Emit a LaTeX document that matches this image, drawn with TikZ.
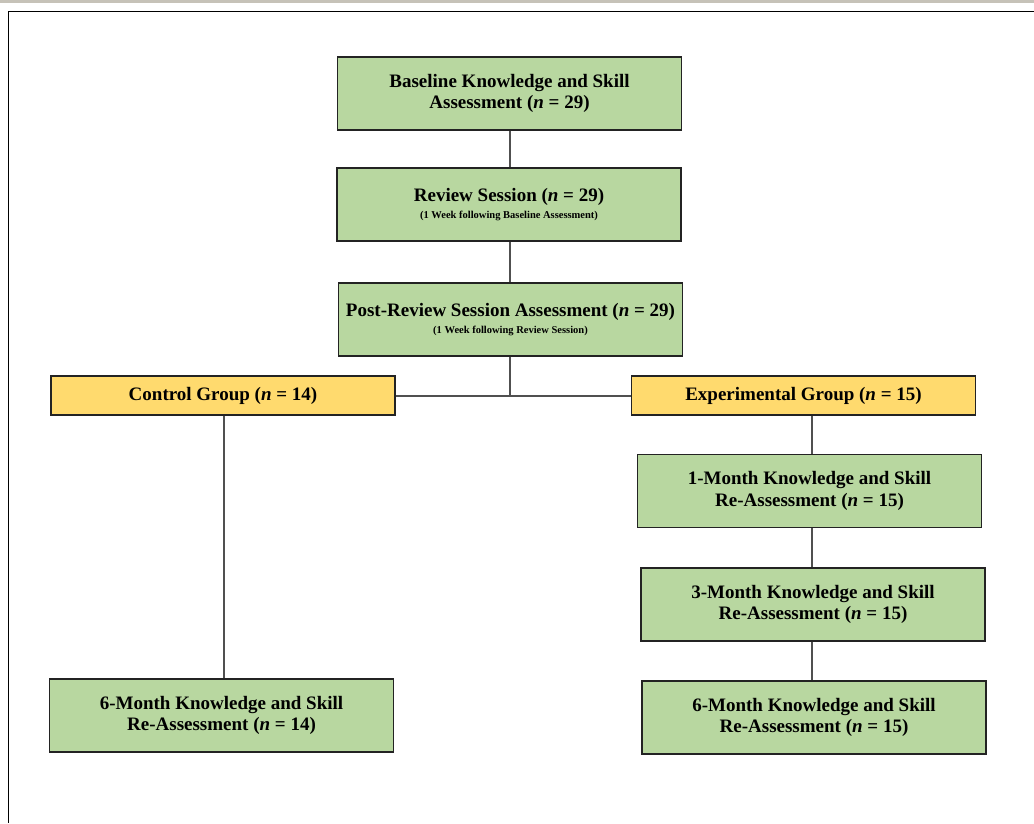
\documentclass[tikz,border=0pt]{standalone}
\usepackage{fontspec}
\setmainfont{Liberation Serif}
\definecolor{boxgreen}{RGB}{184,215,160}
\definecolor{boxgold}{RGB}{255,218,110}
\definecolor{boxline}{RGB}{35,35,35}
\definecolor{linkgray}{RGB}{80,80,80}
\definecolor{stripgray}{RGB}{198,194,184}
\newcommand{\subnote}[1]{{\fontsize{10.5}{12}\selectfont #1}}
\begin{document}
\begin{tikzpicture}[x=1pt,y=-1pt,
  box/.style={draw=boxline,line width=1.4pt,minimum width=344pt,inner sep=0pt,
    align=center,font=\bfseries\fontsize{19}{21.5}\selectfont},
  greenbox/.style={box,fill=boxgreen,minimum height=73pt},
  goldbox/.style={box,fill=boxgold,minimum height=39pt},
  link/.style={draw=linkgray,line width=2pt}]
\useasboundingbox (0,0) rectangle (1034,823);
% page frame
\fill[stripgray] (0,0) rectangle (1034,2.5);
\draw[line width=1.5pt] (1034,11.5) -- (8.5,11.5) -- (8.5,823);
% boxes
\node[greenbox] (base) at (509.5,93.5) {Baseline Knowledge and Skill\\Assessment (\textit{n} = 29)};
\node[greenbox] (review) at (509,204.5) {Review Session (\textit{n} = 29)\\[-5pt]\subnote{(1 Week following Baseline Assessment)}};
\node[greenbox] (post) at (510.5,319.5) {Post-Review Session Assessment (\textit{n} = 29)\\[-5pt]\subnote{(1 Week following Review Session)}};
\node[goldbox] (control) at (223,395.5) {Control Group (\textit{n} = 14)};
\node[goldbox] (exper) at (803.5,395.5) {Experimental Group (\textit{n} = 15)};
\node[greenbox] (m1) at (809.5,491) {1-Month Knowledge and Skill\\Re-Assessment (\textit{n} = 15)};
\node[greenbox] (m3) at (813,604.5) {3-Month Knowledge and Skill\\Re-Assessment (\textit{n} = 15)};
\node[greenbox] (m6e) at (814,717.5) {6-Month Knowledge and Skill\\Re-Assessment (\textit{n} = 15)};
\node[greenbox] (m6c) at (221.5,715.5) {6-Month Knowledge and Skill\\Re-Assessment (\textit{n} = 14)};
% spines
\coordinate (midspine) at (510,0);
\coordinate (ctrlspine) at (224,0);
\coordinate (expspine) at (812,0);
% connectors
\draw[link] (base.south -| midspine) -- (review.north -| midspine);
\draw[link] (review.south -| midspine) -- (post.north -| midspine);
\draw[link] (post.south -| midspine) -- (control.east -| midspine);
\draw[link] (control.east) -- (exper.west);
\draw[link] (control.south -| ctrlspine) -- (m6c.north -| ctrlspine);
\draw[link] (exper.south -| expspine) -- (m1.north -| expspine);
\draw[link] (m1.south -| expspine) -- (m3.north -| expspine);
\draw[link] (m3.south -| expspine) -- (m6e.north -| expspine);
\end{tikzpicture}
\end{document}
